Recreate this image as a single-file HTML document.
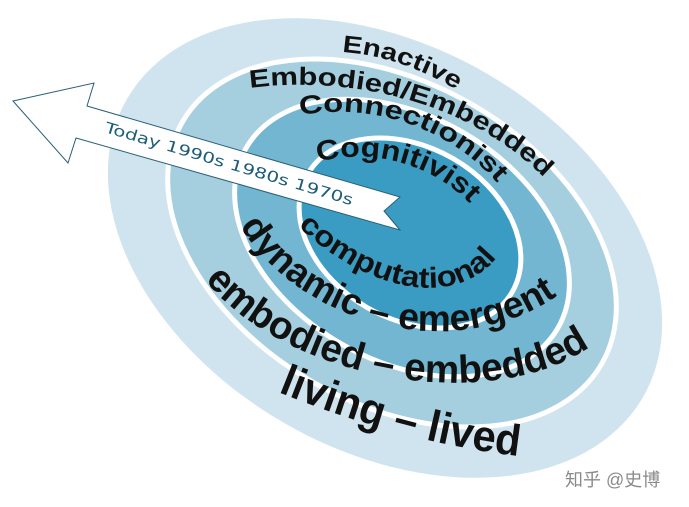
<!DOCTYPE html>
<html><head><meta charset="utf-8"><style>
html,body{margin:0;padding:0;background:#fff;overflow:hidden;width:689px;height:507px;}
svg{display:block;overflow:hidden;}
.t{font-family:"Liberation Sans",sans-serif;font-weight:bold;fill:#111;}
</style></head><body>
<svg width="689" height="507" viewBox="0 0 689 507">
<defs>
<path id="p-enactive" d="M 342 52 C 385 55 430 70 480 105"/>
<path id="p-embodied" d="M 250 88 C 350 75 480 100 560 195"/>
<path id="p-connect" d="M 300 115 C 390 100 470 140 512 202"/>
<path id="p-cognit" d="M 318 162 C 380 145 450 170 485 222"/>
<path id="p-comput" d="M 298 226 C 370 295 470 315 508 240"/>
<path id="p-dynamic" d="M 240 226 C 300 325 460 370 565 290"/>
<path id="p-embedd" d="M 205 280 C 290 385 510 420 605 335"/>
<path id="p-living" d="M 278 392 C 360 425 450 452 560 460"/>
</defs>
<ellipse cx="385" cy="248" rx="298" ry="202" transform="rotate(30 385 248)" fill="#cfe4ee"/>
<ellipse cx="392" cy="243" rx="242" ry="160" transform="rotate(30 392 243)" fill="#a5cfdf" stroke="#fff" stroke-width="5"/>
<ellipse cx="402" cy="238" rx="180" ry="122" transform="rotate(30 402 238)" fill="#72b6d2" stroke="#fff" stroke-width="5"/>
<ellipse cx="410" cy="233" rx="118" ry="86" transform="rotate(30 410 233)" fill="#3b9cc3" stroke="#fff" stroke-width="5"/>
<polygon points="13,101 94,83 87,106 400,197 384,211 400,230 76,138 68,163" fill="#fff" stroke="#2a5f7a" stroke-width="1"/>
<text x="104" y="132" transform="rotate(16.5 104 132)" font-family="'DejaVu Sans',sans-serif" font-size="15" fill="#1d5d7c" textLength="258" lengthAdjust="spacingAndGlyphs">Today 1990s 1980s 1970s</text>
<text class="t" font-size="24"><textPath href="#p-enactive" textLength="122" lengthAdjust="spacingAndGlyphs">Enactive</textPath></text>
<text class="t" font-size="25"><textPath href="#p-embodied" textLength="318" lengthAdjust="spacingAndGlyphs">Embodied/Embedded</textPath></text>
<text class="t" font-size="26"><textPath href="#p-connect" textLength="218" lengthAdjust="spacingAndGlyphs">Connectionist</textPath></text>
<text class="t" font-size="28"><textPath href="#p-cognit" textLength="165" lengthAdjust="spacingAndGlyphs">Cognitivist</textPath></text>
<text class="t" font-size="29"><textPath href="#p-comput" textLength="225" lengthAdjust="spacingAndGlyphs">computational</textPath></text>
<text class="t" font-size="37"><textPath href="#p-dynamic" textLength="360" lengthAdjust="spacingAndGlyphs">dynamic – emergent</textPath></text>
<text class="t" font-size="39"><textPath href="#p-embedd" textLength="420" lengthAdjust="spacingAndGlyphs">embodied – embedded</textPath></text>
<text class="t" font-size="44"><textPath href="#p-living" textLength="250" lengthAdjust="spacingAndGlyphs">living – lived</textPath></text>
<text x="565" y="486" font-family="'Liberation Sans','Noto Sans CJK SC',sans-serif" font-size="18" fill="#8a8a8a">知乎 @史博</text>
</svg>
</body></html>
